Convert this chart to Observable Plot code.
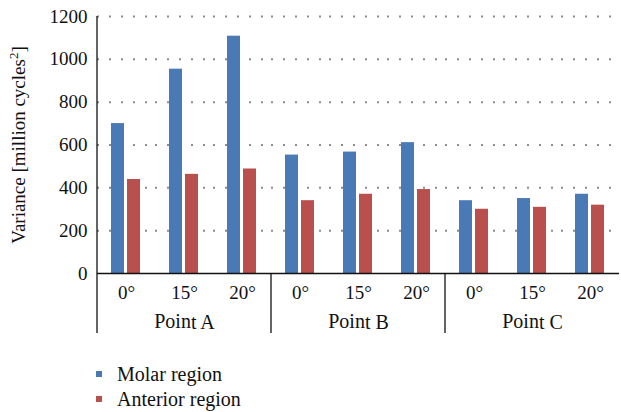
<!DOCTYPE html>
<html>
<head>
<meta charset="utf-8">
<script src="https://cdn.jsdelivr.net/npm/d3@7"></script>
<script src="https://cdn.jsdelivr.net/npm/@observablehq/plot@0.6"></script>
<style>
  html, body { margin: 0; padding: 0; background: #fff; }
  body { font-family: "Liberation Serif", serif; width: 621px; }
  svg { display: block; }
</style>
</head>
<body>
<div id="chart"></div>
<script>
const points = ["Point A", "Point B", "Point C"];
const angles = ["0°", "15°", "20°"];
const regions = ["Molar region", "Anterior region"];
// values ordered Point A (0°,15°,20°), Point B (...), Point C (...)
const molar    = [700, 954, 1108, 553, 567, 611, 340, 350, 370];
const anterior = [439, 463, 488, 340, 370, 392, 300, 309, 319];
const yTicks = [0, 200, 400, 600, 800, 1000, 1200];
const yLabel = "Variance [million cycles²]";
const colors = ["#4a7ab5", "#b9504d"];
const FONT = "'Liberation Serif', serif";

const keys = [];
const rows = [];
points.forEach((p, i) => angles.forEach((a, j) => {
  const key = p + "|" + a;
  keys.push(key);
  const k = i * angles.length + j;
  rows.push({key, point: p, angle: a, region: regions[0], value: molar[k]});
  rows.push({key, point: p, angle: a, region: regions[1], value: anterior[k]});
}));

const chart = Plot.plot({
  width: 621,
  height: 355,
  marginLeft: 95,
  marginRight: 0,
  marginTop: 16,
  marginBottom: 82,
  style: {fontFamily: FONT, fontSize: "19px", color: "#111", background: "#fff"},
  fx: {domain: keys, padding: 0, axis: "bottom", tickSize: 0, tickPadding: 12, tickFormat: k => k.split("|")[1], label: null},
  x: {domain: regions, paddingInner: 0.184, paddingOuter: 0.892, axis: null},
  y: {domain: [0, 1200], ticks: yTicks, tickFormat: d => String(d), tickSize: 0, tickPadding: 10, label: yLabel, labelAnchor: "center", labelArrow: "none", labelOffset: 86},
  color: {domain: regions, range: colors},
  marks: [
    Plot.ruleY(yTicks.filter(t => t > 0), {stroke: "#8c8c8c", strokeWidth: 2, strokeDasharray: "2,10"}),
    Plot.barY(rows, {fx: "key", x: "region", y: "value", fill: "region"}),
    Plot.ruleY([0], {stroke: "#111", strokeWidth: 1.3}),
    Plot.text(points, {fx: d => d + "|" + angles[1], text: d => d, frameAnchor: "bottom", dy: 55, fontSize: 20, fill: "#111"})
  ]
});

const svg = d3.select(chart.tagName.toLowerCase() === "svg" ? chart : chart.querySelector("svg"));

// superscript in the y label; tiny rotation so every label is drawn from outlines like the y label
svg.selectAll("text").each(function() {
  const t = d3.select(this);
  const s = this.textContent;
  if (s.includes("Variance")) {
    t.text(null);
    t.append("tspan").text("Variance [million cycles");
    t.append("tspan").attr("baseline-shift", "super").attr("font-size", "13px").text("2");
    t.append("tspan").text("]");
  } else {
    const tr = t.attr("transform");
    t.attr("transform", (tr ? tr + " " : "") + "rotate(0.01)");
  }
});

// axis line and group separators, positioned with the chart's own scales
const fx = chart.scale("fx");
const y = chart.scale("y");
const g = svg.append("g").attr("stroke", "#111").attr("stroke-width", 1.3);
const y0 = y.apply(0), yTop = y.apply(yTicks[yTicks.length - 1]);
points.forEach((p, i) => {
  const x0 = fx.apply(p + "|" + angles[0]);
  g.append("line").attr("x1", x0).attr("x2", x0)
    .attr("y1", i === 0 ? yTop : y0).attr("y2", y0 + 60);
});

document.getElementById("chart").appendChild(chart);

// legend below the chart, colours from the chart's colour scale
const color = chart.scale("color");
const leg = d3.select("body").append("svg")
  .attr("width", 621).attr("height", 57)
  .attr("font-family", FONT).attr("font-size", 20).attr("fill", "#111");
regions.forEach((r, i) => {
  const row = leg.append("g").attr("transform", `translate(96,${19 + i * 25})`);
  row.append("rect").attr("x", 0).attr("y", -3).attr("width", 6).attr("height", 6).attr("fill", color.apply(r));
  row.append("text").attr("x", 21).attr("dy", "0.33em").attr("transform", "rotate(0.01)").text(r);
});
</script>
</body>
</html>
